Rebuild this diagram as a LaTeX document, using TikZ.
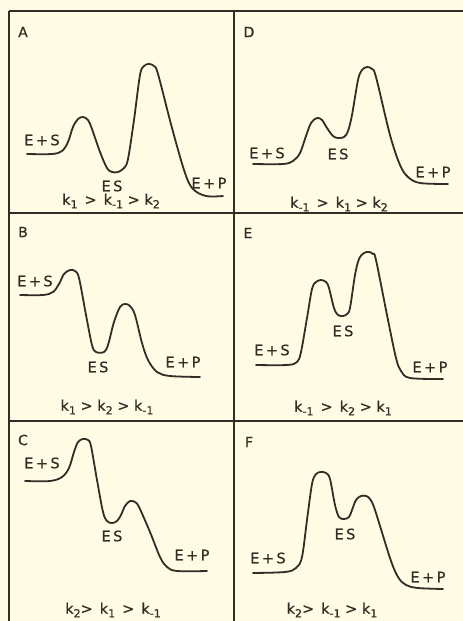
\documentclass[tikz,border=0pt]{standalone}
\usepackage{fontspec}
\setmainfont{DejaVu Sans}[FakeBold=0.6]
\definecolor{ink}{HTML}{352C27}
\definecolor{paper}{HTML}{FEFCE4}
\tikzset{
  frame/.style={draw=ink, line width=1.6pt},
  curve/.style={draw=ink, line width=1.8pt, line cap=round, line join=round},
  lbl/.style={text=ink, inner sep=0pt, font=\fontsize{14.5}{14.5}\selectfont},
  klbl/.style={text=ink, inner sep=0pt, font=\fontsize{14.5}{14.5}\selectfont},
  panel/.style={text=ink, inner sep=0pt, font=\fontsize{14}{14}\selectfont}
}
\newcommand{\kk}[1]{k\raisebox{-0.45ex}{\fontsize{11}{11}\selectfont #1}}
\begin{document}
\begin{tikzpicture}[x=1pt,y=-1pt]
\fill[paper] (0,0) rectangle (463,621);
\useasboundingbox (0,0) rectangle (463,621);
% frame
\coordinate (tl) at (9,11);
\coordinate (tr) at (463,11);
\coordinate (bl) at (9,621);
\coordinate (tm) at (234,11);
\coordinate (bm) at (234,621);
\coordinate (h1l) at (9,213);
\coordinate (h1r) at (463,213);
\coordinate (h2l) at (9,421);
\coordinate (h2r) at (463,421);
\draw[frame] (tl) -- (tr);
\draw[frame] (tl) -- (bl);
\draw[frame] (tm) -- (bm);
\draw[frame] (h1l) -- (h1r);
\draw[frame] (h2l) -- (h2r);

% Panel A
\node[panel] (pA) at (23,32) {A};
\draw[curve] plot[smooth, tension=0.55] coordinates {(27,154) (52,154) (62,151) (68,142) (73,127) (78,119) (83,117) (88,120) (92,129) (100,152) (107,168) (112,172) (118,172) (124,168) (128,159) (134,120) (140,75) (144,66) (149,64) (154,66) (158,74) (172,128) (185,173) (193,189) (206,196) (223,196)};
\node[lbl] (esA) at (42,140) {E\,+\,S};
\node[lbl] (mA) at (112,186) {E\,S};
\node[lbl] (epA) at (209,183) {E\,+\,P};
\node[klbl] (kA) at (111,201) {\kk{1} \,>\, \kk{-1} > \kk{2}};

% Panel D
\node[panel] (pD) at (249,32) {D};
\draw[curve] plot[smooth, tension=0.55] coordinates {(253,164) (283,164) (293,161) (300,153) (306,136) (311,123) (317,118) (322,120) (327,128) (333,136) (338,138) (344,137) (348,131) (352,115) (358,80) (362,70) (367,67) (372,69) (376,77) (390,135) (400,165) (408,177) (420,183) (448,184)};
\node[lbl] (esD) at (267,153) {E\,+\,S};
\node[lbl] (mD) at (338,154) {E\,S};
\node[lbl] (epD) at (433,172) {E\,+\,P};
\node[klbl] (kD) at (339,204) {\kk{-1} \,>\, \kk{1} > \kk{2}};

% Panel B
\node[panel] (pB) at (23,232) {B};
\draw[curve] plot[smooth, tension=0.55] coordinates {(20,295) (43,295) (53,292) (59,284) (64,274) (70,270) (75,271) (79,278) (86,315) (92,345) (96,352) (104,352) (108,345) (114,322) (120,307) (125,304) (130,306) (135,315) (142,343) (148,360) (157,372) (170,376) (200,377)};
\node[lbl] (esB) at (35,281) {E\,+\,S};
\node[lbl] (mB) at (98,367) {E\,S};
\node[lbl] (epB) at (183,362) {E\,+\,P};
\node[klbl] (kB) at (107,407) {\kk{1} > \kk{2} > \kk{-1}};

% Panel E
\node[panel] (pE) at (248,233) {E};
\draw[curve] plot[smooth, tension=0.55] coordinates {(256,365) (287,365) (297,362) (301,352) (307,318) (312,289) (316,282) (321,280) (326,282) (329,288) (334,308) (338,315) (343,316) (347,314) (350,308) (355,275) (359,259) (364,253) (369,252) (373,254) (376,260) (388,320) (396,358) (401,371) (410,378) (443,379)};
\node[lbl] (esE) at (272,350) {E\,+\,S};
\node[lbl] (mE) at (343,331) {E\,S};
\node[lbl] (epE) at (430,367) {E\,+\,P};
\node[klbl] (kE) at (343,408) {\kk{-1} \,>\, \kk{2} > \kk{1}};

% Panel C
\node[panel] (pC) at (23,440) {C};
\draw[curve] plot[smooth, tension=0.55] coordinates {(25,481) (50,481) (62,477) (69,468) (74,452) (78,442) (83,439) (88,440) (91,446) (97,480) (103,512) (107,521) (112,523) (117,521) (121,515) (125,506) (130,501) (135,502) (139,507) (150,532) (160,557) (167,567) (177,571) (207,571)};
\node[lbl] (esC) at (42,463) {E\,+\,S};
\node[lbl] (mC) at (112,536) {E\,S};
\node[lbl] (epC) at (192,555) {E\,+\,P};
\node[klbl] (kC) at (113,610) {\kk{2}> \,\kk{1} \,>\, \kk{-1}};

% Panel F
\node[panel] (pF) at (249,442) {F};
\draw[curve] plot[smooth, tension=0.55] coordinates {(253,573) (285,572) (296,568) (302,557) (307,520) (312,484) (316,474) (321,472) (326,473) (330,479) (335,505) (339,517) (344,519) (349,517) (352,510) (356,500) (361,496) (366,496) (370,499) (375,510) (390,558) (398,577) (406,585) (418,588) (443,589)};
\node[lbl] (esF) at (268,558) {E\,+\,S};
\node[lbl] (mF) at (345,534) {E\,S};
\node[lbl] (epF) at (428,577) {E\,+\,P};
\node[klbl] (kF) at (332,610) {\kk{2}> \,\kk{-1} > \kk{1}};
\end{tikzpicture}
\end{document}
